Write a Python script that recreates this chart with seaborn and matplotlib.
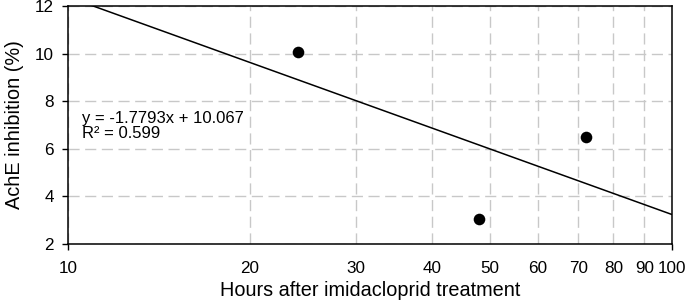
import numpy as np
import pandas as pd
import matplotlib
matplotlib.use('Agg')
import matplotlib.pyplot as plt
import seaborn as sns
from matplotlib.ticker import FixedLocator, NullFormatter, FixedFormatter

# data
hours = [24, 48, 72]
inhibition = [10.05, 3.05, 6.5]
x_ticks = [10, 20, 30, 40, 50, 60, 70, 80, 90, 100]
y_ticks = [2, 4, 6, 8, 10, 12]
eq_line = "y = -1.7793x + 10.067"
r2_line = "R² = 0.599"

df = pd.DataFrame({'Hours': hours, 'AchE': inhibition})

sns.set_theme(style='white')
plt.rcParams['font.family'] = ['Liberation Sans', 'DejaVu Sans']

fig = plt.figure(figsize=(6.85, 3.03), dpi=100)
ax = fig.add_axes([68 / 685, 1 - 244 / 303, 604 / 685, 238 / 303])

ax.set_xscale('log')
ax.set_xlim(10, 100)
ax.set_ylim(2, 12)

# trend line (straight on the log axis)
slope, icpt = np.polyfit(np.log10(df['Hours']), df['AchE'], 1)
xs = np.array([10, 100])
ax.plot(xs, icpt + slope * np.log10(xs), color='black', lw=1.1, zorder=3)

sns.scatterplot(data=df, x='Hours', y='AchE', ax=ax, color='black', s=70,
                edgecolor='black', linewidth=0, zorder=4, clip_on=False)

ax.xaxis.set_major_locator(FixedLocator(x_ticks))
ax.xaxis.set_major_formatter(FixedFormatter([str(t) for t in x_ticks]))
ax.xaxis.set_minor_locator(FixedLocator([]))
ax.xaxis.set_minor_formatter(NullFormatter())
ax.set_yticks(y_ticks)

ax.grid(True, which='major', color='#c8c8c8', linestyle=(0, (8, 4)), lw=1.0)
ax.set_axisbelow(True)

for s in ax.spines.values():
    s.set_color('black')
    s.set_linewidth(1.1)

ax.tick_params(axis='both', labelsize=12.3, colors='black', direction='out',
               length=4.5, width=1, pad=5.5, left=True, bottom=True)
ax.tick_params(axis='x', length=0, pad=12.5)
# ticks at 10 and 100 only on the x axis
for t, v in zip(ax.xaxis.get_major_ticks(), x_ticks):
    if v in (10, 100):
        t.tick1line.set_markersize(4)
        t.tick1line.set_markeredgewidth(1)

ax.set_xlabel('Hours after imidacloprid treatment', fontsize=14.3, color='black', labelpad=3.5)
ax.set_ylabel('AchE inhibition (%)', fontsize=14.3, color='black', labelpad=8)

ax.text(0.024, 0.508, eq_line, transform=ax.transAxes, fontsize=12,
        va='baseline', ha='left', color='black')
ax.text(0.024, 0.445, r2_line, transform=ax.transAxes, fontsize=12,
        va='baseline', ha='left', color='black')

fig.savefig('out.png', dpi=100)
